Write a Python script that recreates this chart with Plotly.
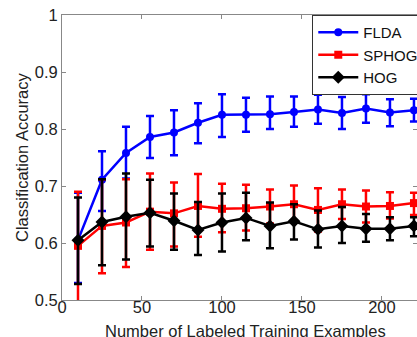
import plotly.graph_objects as go

x_vals = [10, 25, 40, 55, 70, 85, 100, 115, 130, 145, 160, 175, 190, 205, 220]

flda = [0.605, 0.711, 0.758, 0.786, 0.794, 0.811, 0.825, 0.825, 0.826, 0.830, 0.834, 0.828, 0.836, 0.829, 0.833]
flda_hi = [0.688, 0.761, 0.804, 0.823, 0.833, 0.845, 0.861, 0.855, 0.857, 0.857, 0.860, 0.856, 0.861, 0.852, 0.853]
flda_lo = [0.530, 0.656, 0.713, 0.749, 0.754, 0.775, 0.786, 0.795, 0.800, 0.804, 0.809, 0.800, 0.811, 0.805, 0.813]

sphog = [0.595, 0.630, 0.636, 0.655, 0.652, 0.665, 0.660, 0.661, 0.664, 0.668, 0.658, 0.668, 0.664, 0.665, 0.670]
sphog_hi = [0.690, 0.712, 0.712, 0.722, 0.706, 0.721, 0.704, 0.702, 0.694, 0.701, 0.696, 0.694, 0.692, 0.689, 0.688]
sphog_lo = [0.490, 0.547, 0.558, 0.588, 0.594, 0.611, 0.619, 0.622, 0.634, 0.636, 0.620, 0.642, 0.636, 0.643, 0.649]

hog = [0.605, 0.637, 0.646, 0.653, 0.639, 0.623, 0.636, 0.644, 0.630, 0.638, 0.624, 0.630, 0.625, 0.625, 0.630]
hog_hi = [0.680, 0.712, 0.722, 0.711, 0.687, 0.672, 0.687, 0.688, 0.671, 0.668, 0.657, 0.663, 0.651, 0.645, 0.645]
hog_lo = [0.528, 0.561, 0.571, 0.594, 0.588, 0.579, 0.585, 0.605, 0.591, 0.606, 0.592, 0.600, 0.602, 0.605, 0.612]

x_ticks = [0, 50, 100, 150, 200]
y_ticks = [0.5, 0.6, 0.7, 0.8, 0.9, 1.0]
y_ticktext = ["0.5", "0.6", "0.7", "0.8", "0.9", "1"]

x_title = "Number of Labeled Training Examples"
y_title = "Classification Accuracy"

series = [
    ("FLDA", flda, flda_hi, flda_lo, "#0000ff", "circle", 8),
    ("SPHOG", sphog, sphog_hi, sphog_lo, "#ff0000", "square", 8),
    ("HOG", hog, hog_hi, hog_lo, "#000000", "diamond", 10),
]

fig = go.Figure()
for name, y, hi, lo, color, sym, sz in series:
    fig.add_trace(go.Scatter(
        x=x_vals, y=y, name=name + "\u00a0" * 6, mode="lines+markers",
        line=dict(color=color, width=2.5),
        marker=dict(symbol=sym, size=sz, color=color),
        error_y=dict(type="data", symmetric=False,
                     array=[h - v for h, v in zip(hi, y)],
                     arrayminus=[v - l for v, l in zip(y, lo)],
                     color=color, thickness=2.5, width=4),
    ))

font_family = "Liberation Sans, Arial, sans-serif"
fig.update_layout(
    width=417, height=337,
    margin=dict(l=62, r=0, t=15, b=37, autoexpand=False),
    paper_bgcolor="white", plot_bgcolor="white",
    font=dict(family=font_family, size=16, color="#222222"),
    showlegend=True,
    legend=dict(x=0.705, y=1.0, xanchor="left", yanchor="top",
                bgcolor="white", bordercolor="#333333", borderwidth=1,
                font=dict(size=15, color="#111111"),
                tracegroupgap=0, itemwidth=40),
    xaxis=dict(range=[0, 221.9], tickvals=x_ticks,
               ticks="inside", ticklen=4, tickcolor="#888888",
               showline=True, linecolor="#888888", linewidth=1, mirror="ticks",
               showgrid=False, zeroline=False, automargin=False,
               showticklabels=True, ticklabeloverflow="allow",
               ticklabelstandoff=-8,
               tickfont=dict(size=16.5, color="#222222")),
    yaxis=dict(range=[0.5, 1.0], tickvals=y_ticks, ticktext=y_ticktext,
               ticks="inside", ticklen=4, tickcolor="#888888",
               showline=True, linecolor="#888888", linewidth=1, mirror="ticks",
               showgrid=False, zeroline=False, automargin=False,
               tickfont=dict(size=16.5, color="#222222")),
    annotations=[
        dict(text=x_title, xref="paper", yref="paper",
             x=(245.5 - 62) / 355, y=-(331 - 300) / 285,
             xanchor="center", yanchor="middle", showarrow=False,
             font=dict(size=16.5, color="#222222")),
        dict(text=y_title, xref="paper", yref="paper",
             x=-(62 - 22) / 355, y=(300 - 158) / 285,
             xanchor="center", yanchor="middle", showarrow=False, textangle=-90,
             font=dict(size=16.5, color="#222222")),
    ],
)

fig.write_html(
    "out.html",
    config={"displayModeBar": False},
    post_script="document.body.style.margin='0';document.body.style.overflow='hidden';",
)
